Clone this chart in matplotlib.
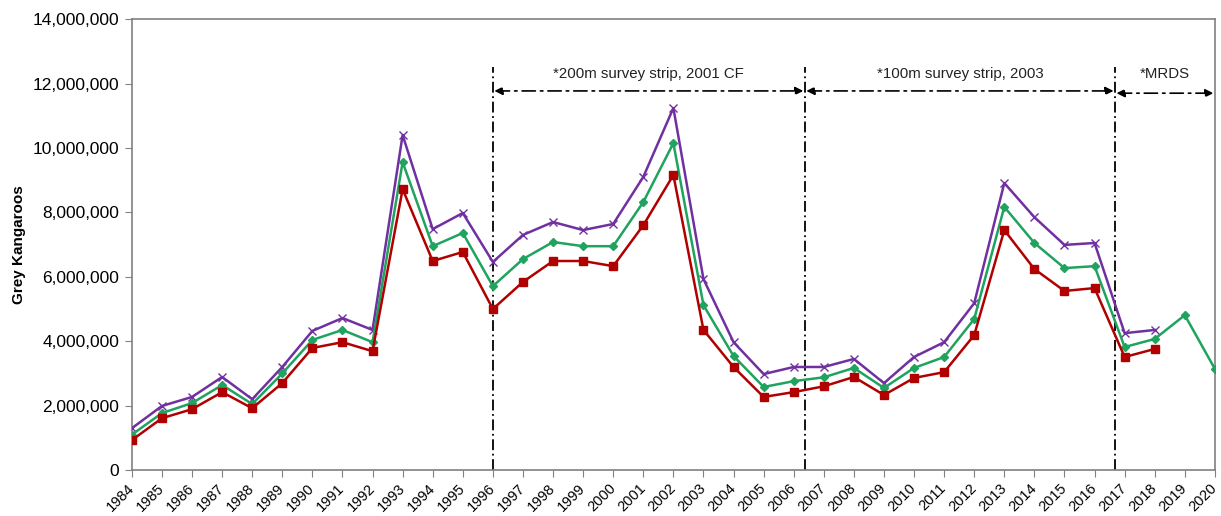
import numpy as np
import matplotlib
matplotlib.use("Agg")
import matplotlib.pyplot as plt
from matplotlib.ticker import FuncFormatter

plt.rcParams['font.family'] = ['Liberation Sans', 'DejaVu Sans']

years = list(range(1984, 2021))

# upper estimate (purple, x markers), 1984-2018
upper = [1.30, 1.99, 2.27, 2.89, 2.20, 3.20, 4.32, 4.72, 4.35, 10.40,
         7.48, 7.98, 6.46, 7.30, 7.70, 7.45, 7.64, 9.10, 11.24, 5.93,
         3.97, 2.98, 3.20, 3.20, 3.45, 2.70, 3.51, 3.97, 5.18, 8.91,
         7.85, 6.99, 7.05, 4.25, 4.35]
# middle estimate (green, diamonds), 1984-2020
middle = [1.10, 1.77, 2.08, 2.64, 2.05, 3.00, 4.04, 4.35, 3.97, 9.56,
          6.95, 7.36, 5.71, 6.55, 7.08, 6.95, 6.95, 8.32, 10.15, 5.12,
          3.54, 2.58, 2.76, 2.88, 3.17, 2.55, 3.17, 3.51, 4.69, 8.17,
          7.05, 6.27, 6.33, 3.82, 4.07, 4.81, 3.14]
# lower estimate (red, squares), 1984-2018
lower = [0.93, 1.61, 1.89, 2.42, 1.92, 2.70, 3.79, 3.97, 3.69, 8.72,
         6.49, 6.77, 5.00, 5.84, 6.49, 6.49, 6.33, 7.60, 9.16, 4.35,
         3.20, 2.27, 2.42, 2.60, 2.89, 2.33, 2.86, 3.04, 4.19, 7.45,
         6.24, 5.56, 5.65, 3.51, 3.76]

periods = [(1996.0, 2006.37, "*200m survey strip, 2001 CF"),
           (2006.37, 2016.68, "*100m survey strip, 2003"),
           (2016.68, 2020.0, "*MRDS")]

fig = plt.figure(figsize=(12.21, 5.16), dpi=100)
ax = fig.add_axes([0.108, 0.089, 0.887, 0.874])

M = 1e6
ax.plot(years[:len(upper)], np.array(upper) * M, color="#7030A0", lw=1.8,
        marker="x", ms=6, mew=1.0, zorder=3)
ax.plot(years, np.array(middle) * M, color="#1FA35F", lw=1.8,
        marker="D", ms=4, zorder=4)
ax.plot(years[:len(lower)], np.array(lower) * M, color="#B00000", lw=1.8,
        marker="s", ms=6, zorder=5)

ax.set_xlim(1984, 2020)
ax.set_ylim(0, 14e6)
ax.set_yticks(np.arange(0, 14e6 + 1, 2e6))
ax.yaxis.set_major_formatter(FuncFormatter(lambda v, p: "{:,.0f}".format(v)))
ax.set_xticks(years)
ax.set_xticklabels([str(y) for y in years], rotation=45, ha="right",
                   va="center", rotation_mode="anchor")
ax.tick_params(axis="both", color="#808080", length=5, direction="out")
ax.tick_params(axis="x", labelsize=10.5, pad=6.5)
ax.tick_params(axis="y", labelsize=12.5, pad=4)
for s in ax.spines.values():
    s.set_color("#808080")
    s.set_linewidth(1.2)
ax.set_ylabel("Grey Kangaroos", fontsize=11, fontweight="bold", labelpad=5)

# survey method boundaries
for i, (x0, x1, label) in enumerate(periods):
    if x0 > 1984:
        ax.plot([x0, x0], [0, 12.5e6], color="black", lw=1.3,
                ls=(0, (6, 2, 1, 2)), zorder=2)
    yy = 11.77e6 if i < 2 else 11.7e6
    ax.annotate("", xy=(x1 - 0.05, yy), xytext=(x0 + 0.05, yy),
                arrowprops=dict(arrowstyle="<|-|>", color="black", lw=1.2,
                                ls=(0, (8, 3, 1.5, 3)), mutation_scale=12,
                                shrinkA=0, shrinkB=0))
    ax.text((x0 + x1) / 2, 12.3e6, label, ha="center", va="center",
            fontsize=10.8, color="#222222")

fig.savefig("out.png", dpi=100)
